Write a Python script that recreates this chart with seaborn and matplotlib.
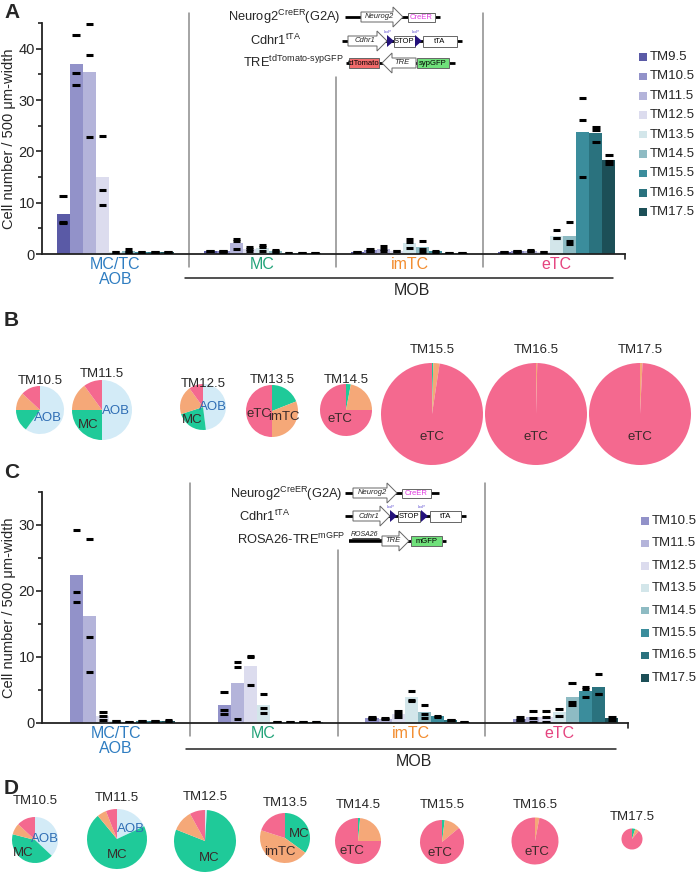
import numpy as np
import pandas as pd
import matplotlib
matplotlib.use("Agg")
import matplotlib.pyplot as plt
from matplotlib.patches import Polygon, Rectangle
from matplotlib.ticker import MultipleLocator
import seaborn as sns

sns.set_style("ticks")
plt.rcParams['font.family'] = ['Liberation Sans', 'DejaVu Sans']
plt.rcParams['mathtext.fontset'] = 'custom'
plt.rcParams['mathtext.rm'] = 'Liberation Sans'
plt.rcParams['mathtext.it'] = 'Liberation Sans:italic'

W, H = 700, 874

# ---- data -------------------------------------------------------------
STAGES = ["TM9.5", "TM10.5", "TM11.5", "TM12.5", "TM13.5",
          "TM14.5", "TM15.5", "TM16.5", "TM17.5"]
STAGE_COLORS = ["#5A5AA6", "#9292C9", "#B4B4DA", "#DCDCEE", "#D3E6EA",
                "#8EBBC3", "#3B8D9C", "#2A727E", "#1C4F57"]
REGIONS = ["MC/TC\nAOB", "MC", "imTC", "eTC"]
REGION_COLORS = ["#2F7DC1", "#22A379", "#F28C2E", "#E5437E"]

# panel A: cells per animal, one list per stage (TM9.5 .. TM17.5)
A_AOB = [[11.3, 6.2, 6.0], [42.6, 35.3, 32.9], [44.9, 38.8, 22.7],
         [23.0, 12.5, 9.6], [0.3, 0.3], [1.0, 0.3, 0.3], [0.4, 0.3],
         [0.3, 0.3], [0.3, 0.3]]
A_MC = [[0.5, 0.5], [0.6, 0.5, 0.4], [2.9, 2.6, 1.0], [1.4, 1.0, 0.6],
        [1.75, 1.35, 0.5], [0.8, 0.2, 0.5], [0.2, 0.2], [0.1, 0.1],
        [0.1, 0.1]]
A_IMTC = [[0.3, 0.3], [1.0, 0.5, 0.6], [1.5, 0.9, 0.6], [0.6, 0.5],
          [2.9, 2.3, 1.1], [2.5, 1.0, 0.3], [0.6, 0.4], [0.2, 0.2],
          [0.2, 0.2]]
A_ETC = [[0.4, 0.3], [0.6, 0.3, 0.6], [0.7, 0.6, 0.5], [0.3, 0.3],
         [4.6, 3.1, 3.1], [6.3, 2.6, 1.9], [30.4, 26.1, 15.0],
         [24.7, 24.2, 21.8], [19.3, 17.5, 18.1]]

# panel C: stages TM10.5 .. TM17.5
C_STAGES = STAGES[1:]
C_AOB = [[29.2, 19.8, 18.3], [27.9, 13.1, 7.8], [1.6, 1.0, 0.5], [0.3, 0.3],
         [0.1, 0.1], [0.3, 0.3], [0.3, 0.3], [0.4, 0.3]]
C_MC = [[4.7, 2.0, 1.4], [9.3, 8.5, 0.6], [10.1, 10.0, 5.8], [4.4, 2.2, 1.5],
        [0.1, 0.1], [0.1, 0.1], [0.1, 0.1], [0.1, 0.1]]
C_IMTC = [[0.9, 0.8, 0.6], [0.7, 0.6], [1.75, 1.3, 0.9], [4.8, 3.4, 3.5],
          [2.7, 1.35, 0.8], [1.1, 0.9], [0.5, 0.4], [0.1, 0.1]]
C_ETC = [[0.9, 0.5, 0.4], [1.75, 0.7, 0.1], [1.75, 0.9, 0.1], [2.1, 1.1],
         [6.0, 2.8, 3.2], [5.4, 5.2, 3.9], [7.4, 4.4, 4.4], [0.9, 0.5]]

# pie charts: fraction (%) of AOB, MC, imTC, eTC
PIE_PARTS = ["AOB", "MC", "imTC", "eTC"]
PIE_COLORS = ["#D3EBF7", "#1FCA99", "#F5A878", "#F4698F"]
B_STAGES = ["TM10.5", "TM11.5", "TM12.5", "TM13.5", "TM14.5",
            "TM15.5", "TM16.5", "TM17.5"]
B_FRACS = [[60, 15, 12, 13], [50, 25, 15, 10], [48, 22, 20, 10],
           [0, 19, 31, 50], [0, 3, 22, 75], [0, 0.4, 2.0, 97.6],
           [0, 0, 0.4, 99.6], [0, 0, 0.8, 99.2]]
D_STAGES = B_STAGES
D_FRACS = [[37, 42, 8, 13], [18, 71, 5, 6], [1, 80, 11, 8],
           [0, 35, 45, 20], [0, 1.5, 23.5, 75], [0, 2, 12, 86],
           [0, 0, 3, 97], [0, 5, 6, 89]]


def long_table(groups, stages):
    rows = []
    for region, per_stage in zip(REGIONS, groups):
        for stage, vals in zip(stages, per_stage):
            for v in vals:
                rows.append((region, stage, v))
    return pd.DataFrame(rows, columns=["region", "stage", "cells"])


df_a = long_table([A_AOB, A_MC, A_IMTC, A_ETC], STAGES)
df_c = long_table([C_AOB, C_MC, C_IMTC, C_ETC], C_STAGES)

fig = plt.figure(figsize=(W / 100, H / 100), dpi=100)


def px_axes(left, top, right, bottom):
    return fig.add_axes([left / W, 1 - bottom / H, (right - left) / W, (bottom - top) / H])


def bar_panel(ax, df, ymax, sep_tops, sep_bottom, label_pad, mob_line, mob_text):
    palette = dict(zip(STAGES, STAGE_COLORS))
    sns.barplot(data=df, x="region", y="cells", hue="stage", order=REGIONS,
                hue_order=STAGES, palette=palette, errorbar=None, saturation=1,
                linewidth=0, legend=False, ax=ax)
    sns.stripplot(data=df, x="region", y="cells", hue="stage", order=REGIONS,
                  hue_order=STAGES, palette=dict.fromkeys(STAGES, "black"),
                  dodge=True, jitter=False, marker="_", size=5.5, linewidth=2.2,
                  legend=False, ax=ax, zorder=5)
    ax.set_xlim(-0.5, 3.466)
    ax.set_ylim(0, ymax)
    ax.yaxis.set_major_locator(MultipleLocator(10))
    ax.yaxis.set_minor_locator(MultipleLocator(5))
    sns.despine(ax=ax)
    for s in ("left", "bottom"):
        ax.spines[s].set_linewidth(1.3)
        ax.spines[s].set_color("#222222")
    ax.tick_params(axis="y", which="major", length=4, width=1.2, labelsize=10.5, pad=1, color="#222222")
    ax.tick_params(axis="y", which="minor", length=3, width=1.2, color="#222222")
    ax.tick_params(axis="x", length=0, pad=label_pad)
    ax.set_xlabel("")
    ax.set_ylabel("Cell number / 500 \u03bcm-width", fontsize=10.5, labelpad=2)
    ax.set_xticks(range(len(REGIONS)))
    ax.set_xticklabels(REGIONS, fontsize=11.5, linespacing=1.05)
    for lab, c in zip(ax.get_xticklabels(), REGION_COLORS):
        lab.set_color(c)
    tr = ax.get_xaxis_transform()
    for x, top in zip([0.5, 1.5, 2.5], sep_tops):
        ax.plot([x, x], [sep_bottom, top], transform=tr, clip_on=False,
                color="#8c8c8c", lw=1.1)
    ax.plot([3.466, 3.466], [0, -0.02], transform=tr, clip_on=False, color="#222222", lw=1.2)
    ax.plot([0.473, 3.384], [mob_line, mob_line], transform=tr, clip_on=False,
            color="#222222", lw=1.1)
    ax.text(2.017, mob_text, "MOB", transform=tr, ha="center", va="center", fontsize=11.5)


ax_a = px_axes(42, 23, 625, 254)
bar_panel(ax_a, df_a, 45, [1.043, 0.766, 1.043], -0.056, 2, -0.104, -0.158)

ax_c = px_axes(42, 492, 628, 723)
bar_panel(ax_c, df_c, 35, [1.039, 0.749, 1.039], -0.055, 2, -0.113, -0.165)

# overlay in pixel coordinates (y downwards)
ov = fig.add_axes([0, 0, 1, 1])
ov.patch.set_alpha(0)
ov.set_xlim(0, W)
ov.set_ylim(H, 0)
ov.axis("off")

# legends
for stages, x0, y0, step in [(STAGES, 639, 57, 19.4), (C_STAGES, 641, 521, 22.4)]:
    for i, s in enumerate(stages):
        y = y0 + i * step
        ov.add_patch(Rectangle((x0, y - 3.8), 7.6, 7.6, fc=STAGE_COLORS[STAGES.index(s)], ec="none"))
        ov.text(x0 + 11, y, s, fontsize=9.5, va="center", ha="left")

for letter, y in [("A", 12), ("B", 320), ("C", 473), ("D", 789)]:
    ov.text(4, y, letter, fontsize=15, fontweight="bold", va="center", ha="left")


def line(x0, x1, y, lw=2.0):
    ov.plot([x0, x1], [y, y], color="black", lw=lw, solid_capstyle="butt", zorder=1)


def arrow(x0, x1, y, label, direction=1, body=10, head=20, headlen=10):
    if direction == 1:
        xb = x1 - headlen
        pts = [(x0, y - body / 2), (xb, y - body / 2), (xb, y - head / 2), (x1, y),
               (xb, y + head / 2), (xb, y + body / 2), (x0, y + body / 2)]
        tx = (x0 + xb) / 2 + 2
    else:
        xb = x0 + headlen
        pts = [(x1, y - body / 2), (xb, y - body / 2), (xb, y - head / 2), (x0, y),
               (xb, y + head / 2), (xb, y + body / 2), (x1, y + body / 2)]
        tx = (x1 + xb) / 2 - 2
    ov.add_patch(Polygon(pts, closed=True, fc="white", ec="#666666", lw=0.7, zorder=2))
    ov.text(tx, y, label, fontsize=5.5, style="italic", ha="center", va="center", zorder=3)


def box(x0, x1, y, label, fc="white", tc="black", h=10):
    ov.add_patch(Rectangle((x0, y - h / 2), x1 - x0, h, fc=fc, ec="#666666", lw=0.7, zorder=2))
    ov.text((x0 + x1) / 2, y + 0.3, label, fontsize=5.5, color=tc, ha="center", va="center", zorder=3)


def loxp(x0, y):
    ov.add_patch(Polygon([(x0, y - 6), (x0 + 7, y), (x0, y + 6)], closed=True,
                         fc="#24127C", ec="none", zorder=3))
    ov.text(x0 + 1, y - 9, "loxP", fontsize=3, color="#5a4bd0", ha="center", va="center")


CFS = 9.3
# construct diagrams, panel A
ov.text(341, 17, r"Neurog2$^{\mathrm{CreER}}$(G2A)", fontsize=CFS, va="center", ha="right")
ov.text(250, 40, r"Cdhr1$^{\mathrm{tTA}}$", fontsize=CFS, va="center")
ov.text(344, 62, r"TRE$^{\mathrm{tdTomato\text{-}sypGFP}}$", fontsize=CFS, va="center", ha="right")
line(345, 440, 17)
arrow(361, 403, 17, "Neurog2")
box(408, 435, 17, "CreER", tc="#E03CE0", h=9)
line(342, 462, 41)
arrow(348, 387, 41, "Cdhr1")
loxp(387, 41)
box(394, 415, 41, "STOP", h=11)
loxp(415, 41)
box(423, 457, 41, "tTA", h=11)
line(346, 455, 63)
box(349, 379, 63, "tdTomato", fc="#F26B6B", h=10)
arrow(382, 416, 63, "TRE", direction=-1)
box(417, 449, 63, "sypGFP", fc="#6FE07A", h=10)

# construct diagrams, panel C
ov.text(343, 494, r"Neurog2$^{\mathrm{CreER}}$(G2A)", fontsize=CFS, va="center", ha="right")
ov.text(239, 516, r"Cdhr1$^{\mathrm{tTA}}$", fontsize=CFS, va="center")
ov.text(345, 539, r"ROSA26-TRE$^{\mathrm{mGFP}}$", fontsize=CFS, va="center", ha="right")
line(345, 439, 493)
arrow(353, 397, 493, "Neurog2")
box(402, 431, 493, "CreER", tc="#E03CE0", h=9)
line(345, 466, 516)
arrow(353, 390, 516, "Cdhr1")
loxp(390, 516)
box(398, 420, 516, "STOP", h=11)
loxp(421, 516)
box(430, 461, 516, "tTA", h=11)
line(382, 446, 541)
line(349, 382, 541, lw=2.6)
ov.text(365, 535, "ROSA26", fontsize=5, style="italic", ha="center", va="center")
ov.plot([352, 379], [538, 538], color="black", lw=0.5)
arrow(382, 409, 541, "TRE")
box(411, 442, 541, "mGFP", fc="#6FE07A", h=10)


def pie_row(stages, fracs, centers, radii, title_ys, labels):
    for stage, fr, (cx, cy), r, ty, labs in zip(stages, fracs, centers, radii, title_ys, labels):
        ov.pie(fr, colors=PIE_COLORS, center=(cx, cy), radius=r, startangle=-90,
               counterclock=True, wedgeprops=dict(linewidth=0), frame=True)
        ov.text(cx, ty, stage, fontsize=9.5, ha="center", va="center")
        for text, dx, dy in labs:
            col = "#2E6DB4" if text == "AOB" else "#3a2a2a"
            ov.text(cx + dx * r, cy + dy * r, text, fontsize=9.5, color=col,
                    ha="center", va="center")


pie_row(B_STAGES, B_FRACS,
        [(40, 410), (102, 410), (203, 407), (272, 411), (346, 410), (432, 414), (536, 414), (640, 414)],
        [24, 30, 23, 26, 26, 51, 51, 51],
        [381, 374, 384, 380, 380, 350, 350, 350],
        [[("AOB", 0.35, 0.35)], [("MC", -0.45, 0.5), ("AOB", 0.45, 0.05)],
         [("MC", -0.45, 0.55), ("AOB", 0.45, 0.0)], [("eTC", -0.5, 0.1), ("imTC", 0.45, 0.25)],
         [("eTC", -0.25, 0.35)], [("eTC", 0, 0.45)], [("eTC", 0, 0.45)], [("eTC", 0, 0.45)]])

pie_row(D_STAGES, D_FRACS,
        [(35, 840), (117, 839), (205, 841), (285, 838), (358, 841), (442, 842), (535, 841), (632, 839)],
        [23, 30, 31, 25, 23, 22, 23.5, 10.5],
        [801, 798, 797, 803, 805, 805, 805, 817],
        [[("AOB", 0.45, -0.05), ("MC", -0.5, 0.55)], [("AOB", 0.45, -0.35), ("MC", 0, 0.55)],
         [("MC", 0.15, 0.55)], [("MC", 0.55, -0.15), ("imTC", -0.2, 0.55)],
         [("eTC", -0.25, 0.45)], [("eTC", -0.1, 0.5)], [("eTC", 0.1, 0.45)], []])

ov.set_xlim(0, W)
ov.set_ylim(H, 0)
ov.axis("off")

fig.savefig("out.png", dpi=100)
